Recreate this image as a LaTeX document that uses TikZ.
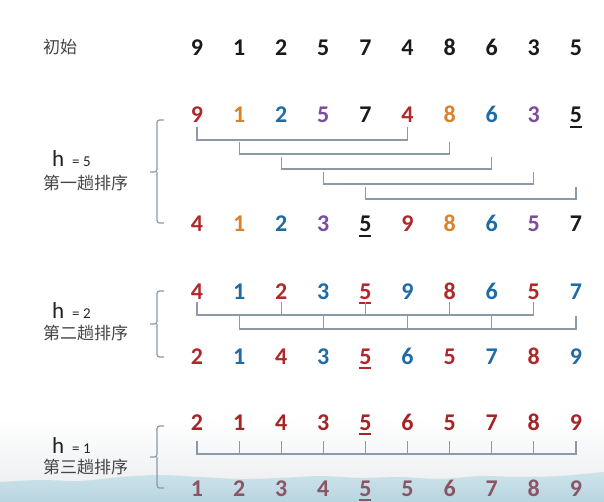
\documentclass[tikz,border=0pt]{standalone}
\usepackage{fontspec}
\setmainfont{Carlito}
\newfontfamily\cjkfont{Noto Sans CJK SC}
\usepackage{tikz}
\usetikzlibrary{positioning}
\definecolor{numInk}{HTML}{1A1A1A}
\definecolor{numRed}{HTML}{B0282A}
\definecolor{numOrange}{HTML}{D9822B}
\definecolor{numBlue}{HTML}{1F6BA5}
\definecolor{numPurple}{HTML}{7A4E9C}
\definecolor{numDark}{HTML}{A52424}
\definecolor{numMauve}{HTML}{8B5566}
\definecolor{lblInk}{HTML}{222222}
\definecolor{lblGray}{HTML}{444444}
\definecolor{lnGray}{HTML}{8A9AA8}
\definecolor{bgGray}{HTML}{EEF0F2}
\definecolor{bgBlueTop}{HTML}{CDE3EA}
\definecolor{bgBlueBot}{HTML}{B8D5E0}
% underlined pivot digit
\newcommand{\ulnum}[1]{\setbox0\hbox{#1}\rlap{\rule[-5pt]{\wd0}{2pt}}\box0}
\tikzset{
  % digit in a row
  num/.style={anchor=base,inner sep=0pt,
    font=\fontsize{24}{24}\selectfont\bfseries},
  % pass label (chinese)
  cjklbl/.style={anchor=west,inner sep=0pt,
    font=\cjkfont\fontsize{17}{17}\selectfont,text=lblGray},
  % gap label
  hlbl/.style={anchor=base west,inner sep=0pt,
    font=\fontsize{23}{23}\selectfont,text=lblInk},
  eqlbl/.style={anchor=base west,inner sep=0pt,
    font=\fontsize{15}{15}\selectfont,text=lblInk},
  % group lines and braces
  link/.style={draw=lnGray,line width=1.2pt},
  brace/.style={draw=lnGray,line width=1.2pt,rounded corners=2.5pt},
}
\begin{document}
\begin{tikzpicture}[x=1pt,y=-1pt]
  \useasboundingbox (0,0) rectangle (604,502);
  % screen background at the bottom
  \shade[top color=white,bottom color=bgGray] (0,418) rectangle (604,482);
  \shade[top color=bgBlueTop,bottom color=bgBlueBot]
    plot[smooth] coordinates {(0,482) (40,480) (80,481) (120,477) (160,475)
      (200,477) (240,479) (280,478) (320,476) (360,478) (400,477) (440,479)
      (480,476) (520,477) (560,476) (604,472)}
    -- (604,502) -- (0,502) -- cycle;

  % initial row
  \node[cjklbl] (lbl0) at (43,47) {初始};
  \foreach \v [count=\i from 0] in {9,1,2,5,7,4,8,6,3,5}
    \node[num,text=numInk] (r\i) at ({197+42.1*\i},56) {\v};

  % pass h = 5
  \node[hlbl] (h1) at (52,167) {h};
  \node[eqlbl] (eq1) at (72,167) {= 5};
  \node[cjklbl] (lbl1) at (43,183) {第一趟排序};
  \foreach \v/\c [count=\i from 0] in {9/numRed,1/numOrange,2/numBlue,
      5/numPurple,7/numInk,4/numRed,8/numOrange,6/numBlue,3/numPurple,
      {\ulnum{5}}/numInk}
    \node[num,text=\c] (a\i) at ({197+42.1*\i},123) {\v};
  \foreach \v/\c [count=\i from 0] in {4/numRed,1/numOrange,2/numBlue,
      3/numPurple,{\ulnum{5}}/numInk,9/numRed,8/numOrange,6/numBlue,
      5/numPurple,7/numInk}
    \node[num,text=\c] (b\i) at ({197+42.1*\i},232) {\v};
  \draw[brace] (164,120) -| (157,172) -- (150,172);
  \draw[brace] (157,172) |- (164,223);
  \draw[link] (a0 |- 0,127) -- (a0 |- 0,140) -- (a5 |- 0,140) -- (a5 |- 0,127);
  \draw[link] (a1 |- 0,142) -- (a1 |- 0,154) -- (a6 |- 0,154) -- (a6 |- 0,142);
  \draw[link] (a2 |- 0,157) -- (a2 |- 0,169) -- (a7 |- 0,169) -- (a7 |- 0,157);
  \draw[link] (a3 |- 0,172) -- (a3 |- 0,184) -- (a8 |- 0,184) -- (a8 |- 0,172);
  \draw[link] (a4 |- 0,187) -- (a4 |- 0,199) -- (a9 |- 0,199) -- (a9 |- 0,187);

  % pass h = 2
  \node[hlbl] (h2) at (52,318) {h};
  \node[eqlbl] (eq2) at (72,318) {= 2};
  \node[cjklbl] (lbl2) at (43,333) {第二趟排序};
  \foreach \v/\c [count=\i from 0] in {4/numRed,1/numBlue,2/numRed,
      3/numBlue,{\ulnum{5}}/numRed,9/numBlue,8/numRed,6/numBlue,
      5/numRed,7/numBlue}
    \node[num,text=\c] (c\i) at ({197+42.1*\i},299) {\v};
  \foreach \v/\c [count=\i from 0] in {2/numRed,1/numBlue,4/numRed,
      3/numBlue,{\ulnum{5}}/numRed,6/numBlue,5/numRed,7/numBlue,
      8/numRed,9/numBlue}
    \node[num,text=\c] (d\i) at ({197+42.1*\i},364) {\v};
  \draw[brace] (164,291) -| (157,324) -- (150,324);
  \draw[brace] (157,324) |- (164,357);
  \draw[link] (c0 |- 0,302) -- (c0 |- 0,315) -- (c8 |- 0,315) -- (c8 |- 0,302);
  \foreach \j in {2,4,6}
    \draw[link] (c\j |- 0,302) -- (c\j |- 0,315);
  \draw[link] (c1 |- 0,316) -- (c1 |- 0,329) -- (c9 |- 0,329) -- (c9 |- 0,316);
  \foreach \j in {3,5,7}
    \draw[link] (c\j |- 0,315) -- (c\j |- 0,329);

  % pass h = 1
  \node[hlbl] (h3) at (52,453) {h};
  \node[eqlbl] (eq3) at (72,453) {= 1};
  \node[cjklbl] (lbl3) at (43,467) {第三趟排序};
  \foreach \v [count=\i from 0] in {2,1,4,3,{\ulnum{5}},6,5,7,8,9}
    \node[num,text=numDark] (e\i) at ({197+42.1*\i},430) {\v};
  \foreach \v [count=\i from 0] in {1,2,3,4,{\ulnum{5}},5,6,7,8,9}
    \node[num,text=numMauve] (f\i) at ({197+42.1*\i},496) {\v};
  \draw[brace] (164,426) -| (157,457) -- (150,457);
  \draw[brace] (157,457) |- (164,488);
  \draw[link] (e0 |- 0,441) -- (e0 |- 0,454) -- (e9 |- 0,454) -- (e9 |- 0,441);
  \foreach \j in {1,...,8}
    \draw[link] (e\j |- 0,441) -- (e\j |- 0,454);
\end{tikzpicture}
\end{document}
